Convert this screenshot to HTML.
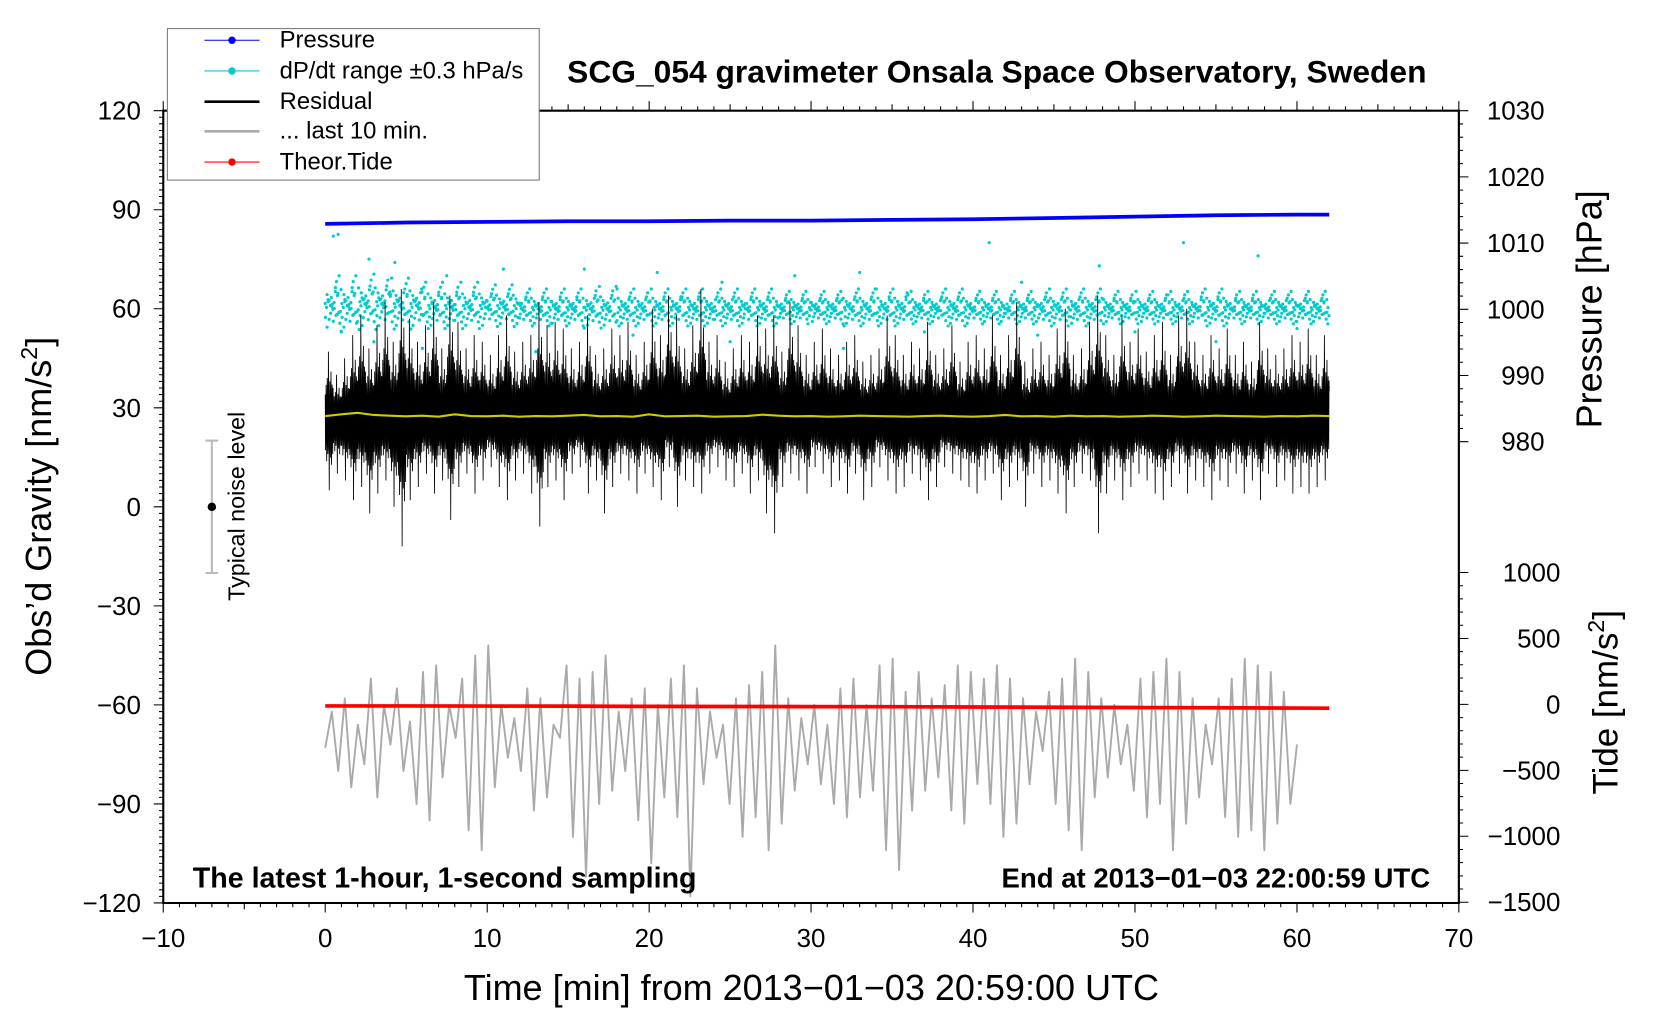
<!DOCTYPE html>
<html><head><meta charset="utf-8">
<style>
html,body{margin:0;padding:0;background:#fff;}
svg{display:block;font-family:"Liberation Sans",sans-serif;}
</style></head>
<body>
<svg id="chart" width="1660" height="1020" viewBox="0 0 1567 963" preserveAspectRatio="none" xmlns="http://www.w3.org/2000/svg">
<rect x="0" y="0" width="1567" height="963" fill="#fff"/>
<g id="data-layer"></g>
<g id="axes-layer"></g>
<text x="941" y="78" font-size="30" font-weight="bold" text-anchor="middle">SCG_054 gravimeter Onsala Space Observatory, Sweden</text>
<text transform="translate(48,478) rotate(-90)" font-size="34" text-anchor="middle">Obs’d Gravity [nm/s<tspan dy="-13" font-size="22">2</tspan><tspan dy="13">]</tspan></text>
<text transform="translate(1512,292) rotate(-90)" font-size="34" text-anchor="middle">Pressure [hPa]</text>
<text transform="translate(1527,663) rotate(-90)" font-size="33" text-anchor="middle">Tide [nm/s<tspan dy="-13" font-size="22">2</tspan><tspan dy="13">]</tspan></text>
<text x="766" y="944" font-size="34" text-anchor="middle">Time [min] from 2013−01−03 20:59:00 UTC</text>
<text x="182" y="838" font-size="27" font-weight="bold">The latest 1-hour, 1-second sampling</text>
<text x="1350" y="838" font-size="26" font-weight="bold" text-anchor="end">End at 2013−01−03 22:00:59 UTC</text>
<g>
<line x1="200" y1="416" x2="200" y2="541" stroke="#bbb" stroke-width="2"/>
<line x1="194" y1="416" x2="206" y2="416" stroke="#bbb" stroke-width="2"/>
<line x1="194" y1="541" x2="206" y2="541" stroke="#bbb" stroke-width="2"/>
<circle cx="200" cy="478.5" r="4" fill="#000"/>
<text transform="translate(231,478) rotate(-90)" font-size="22" text-anchor="middle">Typical noise level</text>
</g>
<g>
<rect x="158" y="27" width="351" height="143" fill="#fff" stroke="#777" stroke-width="1"/>
<g><line x1="193" y1="38" x2="245" y2="38" stroke="#00f" stroke-width="1"/><circle cx="219" cy="38" r="3.5" fill="#00f"/><text x="264" y="45" font-size="22.5">Pressure</text></g>
<g><line x1="193" y1="67" x2="245" y2="67" stroke="#0cc" stroke-width="1"/><circle cx="219" cy="67" r="3.5" fill="#0cc"/><text x="264" y="74" font-size="22.5">dP/dt range ±0.3 hPa/s</text></g>
<g><line x1="193" y1="96" x2="245" y2="96" stroke="#000" stroke-width="2.5"/><text x="264" y="103" font-size="22.5">Residual</text></g>
<g><line x1="193" y1="124" x2="245" y2="124" stroke="#aaa" stroke-width="2.5"/><text x="264" y="131" font-size="22.5">... last 10 min.</text></g>
<g><line x1="193" y1="153" x2="245" y2="153" stroke="#f00" stroke-width="1"/><circle cx="219" cy="153" r="3.5" fill="#f00"/><text x="264" y="160" font-size="22.5">Theor.Tide</text></g>
</g>
<script>
// ---- data ----
const resHi = [47,40,45,52,58,48,55,62,50,66,57,50,55,62,48,64,56,48,52,50,46,52,58,47,50,52,62,55,56,54,48,50,58,46,48,54,52,56,46,50,60,52,64,58,48,55,66,50,52,44,48,52,50,58,54,58,47,62,55,46,50,54,48,46,50,52,44,46,48,58,52,46,50,48,56,46,48,55,44,50,52,48,58,46,52,62,44,48,50,46,54,60,46,48,56,64,52,46,58,50,54,47,52,56,46,58,60,50,46,52,48,54,46,50,44,56,48,46,48,52,50,54,46,52,50,48];
const resLo = [5,10,8,2,6,-2,4,8,0,-12,2,6,10,4,8,-4,6,10,4,8,12,6,2,8,10,4,-6,6,8,2,10,12,4,8,-2,6,10,8,4,10,6,2,12,0,8,6,4,10,12,8,6,10,4,8,-2,-8,6,10,8,4,12,10,6,8,4,10,2,6,12,8,4,6,10,8,2,6,12,10,8,6,4,8,10,2,6,8,0,10,6,8,4,-2,6,10,8,-8,4,8,2,6,10,8,4,2,6,10,4,8,6,2,8,6,10,4,8,2,10,6,8,4,6,4,6,8];
const resMean = [27.5,28,28.5,27.8,27.6,27.4,27.6,27.3,28,27.5,27.4,27.6,27.3,27.5,27.4,27.6,27.8,27.4,27.5,27.3,28,27.4,27.5,27.6,27.3,27.4,27.5,27.9,27.6,27.4,27.5,27.3,27.4,27.6,27.5,27.4,27.3,27.5,27.6,27.4,27.3,27.5,27.8,27.4,27.5,27.3,27.6,27.4,27.5,27.3,27.4,27.6,27.5,27.3,27.4,27.6,27.5,27.4,27.3,27.5,27.4,27.6,27.5];
const dpMean = [61,61.5,61,60.5,60.5,60.5,60,60,60,60,60,60,60,60,60,60,60,60,60,60,60,60,60,60,60,60,60,60,60,60,60];
const dpSpread = [6,6,5.5,5,5,4.5,4,4,4.5,4,4,4,4,4,3.5,3.5,4,4,3.5,4,3.5,3.5,4,4,3.5,3.5,3.5,4,3.5,3.5,3.5];
const dpOutT = [0.5,0.8,2.7,4.3,20.5,7.5,11,24.5,41,43,47.8,53,57.6,29,16,33,1,3,6,13,19,25,32,37,44,50,55,60];
const dpOutV = [82,82.5,75,74,71,70,72,68,80,68,73,80,76,70,72,71,53,50,48,47,52,50,48,53,52,53,50,54];
const grey = [-73,-62,-80,-58,-85,-66,-78,-52,-88,-60,-72,-55,-80,-65,-90,-50,-95,-48,-82,-60,-70,-52,-98,-45,-104,-42,-85,-60,-76,-64,-80,-55,-92,-58,-88,-66,-70,-48,-100,-52,-112,-50,-90,-45,-86,-62,-80,-58,-95,-55,-108,-60,-88,-52,-94,-48,-118,-55,-84,-62,-76,-66,-90,-58,-100,-54,-94,-50,-104,-42,-96,-58,-86,-64,-78,-60,-84,-66,-90,-55,-94,-52,-88,-60,-86,-48,-104,-46,-110,-56,-92,-50,-86,-58,-82,-54,-92,-48,-96,-50,-84,-52,-90,-48,-100,-52,-96,-58,-84,-62,-74,-56,-90,-52,-98,-46,-104,-50,-88,-58,-82,-60,-78,-66,-86,-52,-94,-50,-90,-46,-104,-50,-96,-58,-88,-66,-78,-58,-94,-52,-100,-46,-98,-48,-104,-50,-96,-56,-90,-72];
const pT = [0,5,10,15,20,25,30,35,40,45,50,55,60,62];
const pressure = [1012.9,1013.1,1013.2,1013.3,1013.3,1013.4,1013.4,1013.5,1013.6,1013.8,1014.0,1014.2,1014.3,1014.3];
const tide = [-12,-12,-13,-14,-15,-16,-17,-18,-20,-22,-24,-26,-28,-29];
const xTicks = [-10,0,10,20,30,40,50,60,70];
const yTicks = [120,90,60,30,0,-30,-60,-90,-120];
const pTicks = [1030,1020,1010,1000,990,980];
const tTicks = [1000,500,0,-500,-1000,-1500];

// ---- scales ----
const X = t => 307 + t * 15.2875;
const Y = g => 478.5 - g * 3.117;
const YP = p => 104.5 + (1030 - p) * 6.25;
const YT = v => 665 - v * 0.1245;
const NS = 'http://www.w3.org/2000/svg';
const dl = document.getElementById('data-layer');
const al = document.getElementById('axes-layer');
function mk(tag, attrs, parent) { const e = document.createElementNS(NS, tag); for (const k in attrs) e.setAttribute(k, attrs[k]); parent.appendChild(e); return e; }

let pd = pT.map((t, i) => (i ? 'L' : 'M') + X(t).toFixed(1) + ' ' + YP(pressure[i]).toFixed(1)).join(' ');
const pl = mk('path', { d: pd, fill: 'none', stroke: '#00f', 'stroke-width': 3.5 }, dl);



const dotG = mk('g', { fill: '#0cc' }, dl);


const offs = [0.1,-0.4,0.7,-0.9,0.3,-0.2,0.5,-0.6,0.0,0.9,-0.3,0.2,-0.8,0.6,-0.1,0.4,-0.5,0.8,-0.7,0.15,-0.35,0.55,-0.05,1.2,-1.3,0.25,-0.15,1.5,-1.1,0.05,-0.45];
let dd = '';
dpMean.forEach((m, i) => {
  for (let k = 0; k < 60; k++) {
    const t = i * 2 + k * (2 / 60) + 0.02 * offs[(k * 3 + i) % offs.length];
    if (t > 62) break;
    const v = m + dpSpread[i] * offs[(k * 7 + i * 3) % offs.length];
    dd += 'M' + (X(t) - 1.5).toFixed(1) + ' ' + Y(v).toFixed(1) + 'a1.5 1.5 0 1 0 3 0a1.5 1.5 0 1 0 -3 0';
  }
});
dpOutT.forEach((t, i) => { dd += 'M' + (X(t) - 1.5).toFixed(1) + ' ' + Y(dpOutV[i]).toFixed(1) + 'a1.5 1.5 0 1 0 3 0a1.5 1.5 0 1 0 -3 0'; });
mk('path', { d: dd }, dotG);

const f1 = [0.35,0.5,0.3,0.6,0.4,1.0,0.45,0.3,0.55,0.4,0.7,0.35,0.5,0.45];
const f2 = [0.45,0.3,0.6,0.35,0.5,0.4,0.3,1.0,0.4,0.55,0.35,0.65,0.3,0.5];
const mid = 27;
let rd = '';
resHi.forEach((hi, i) => {
  const lo = resLo[i];
  for (let k = 0; k < 14; k++) {
    const t = i * 0.5 + k * 0.5 / 14;
    if (t > 62) break;
    const top = mid + (hi - mid) * f1[k];
    const bot = mid - (mid - lo) * f2[k];
    rd += (rd ? 'L' : 'M') + X(t).toFixed(2) + ' ' + Y(k % 2 ? bot : top).toFixed(1);
    rd += 'L' + X(t + 0.018).toFixed(2) + ' ' + Y(k % 2 ? top : bot).toFixed(1);
  }
});
const rl = mk('path', { d: rd, fill: 'none', stroke: '#000', 'stroke-width': 0.8 }, dl);



let md = resMean.map((v, i) => (i ? 'L' : 'M') + X(i).toFixed(1) + ' ' + Y(v).toFixed(1)).join(' ');
const ml = mk('path', { d: md, fill: 'none', stroke: '#cc0', 'stroke-width': 2 }, dl);



let gd = grey.map((v, i) => (i ? 'L' : 'M') + X(i * 60 / (grey.length - 1)).toFixed(1) + ' ' + Y(v).toFixed(1)).join(' ');
const gl = mk('path', { d: gd, fill: 'none', stroke: '#aaa', 'stroke-width': 1.8, 'stroke-linejoin': 'round' }, dl);



let td = pT.map((t, i) => (i ? 'L' : 'M') + X(t).toFixed(1) + ' ' + YT(tide[i]).toFixed(1)).join(' ');
const tl = mk('path', { d: td, fill: 'none', stroke: '#f00', 'stroke-width': 3.5 }, dl);



const L = X(-10), R = X(70), T = Y(120), B = Y(-120);
const frame = mk('path', { d: `M${L} ${T}H${R}V${B}H${L}Z`, fill: 'none', stroke: '#000', 'stroke-width': 2 }, al);


let tk = '';
for (let t = -10; t <= 70; t++) {
  const len = t % 10 === 0 ? 9 : (t % 5 === 0 ? 6 : 4);
  tk += `M${X(t).toFixed(1)} ${B}v${len}M${X(t).toFixed(1)} ${T}v${-len}`;
}
for (let g = -120; g <= 120; g += 2) { const len = g % 30 === 0 ? 9 : 4; tk += `M${L} ${Y(g).toFixed(1)}h${-len}`; }
for (let p = 980; p <= 1030; p += 2) { const len = p % 10 === 0 ? 9 : 4; tk += `M${R} ${YP(p).toFixed(1)}h${len}`; }
for (let v = -1500; v <= 1000; v += 100) { const len = v % 500 === 0 ? 9 : 4; tk += `M${R} ${YT(v).toFixed(1)}h${len}`; }
mk('path', { d: tk, fill: 'none', stroke: '#000', 'stroke-width': 1 }, al);
xTicks.forEach(t => { const e = mk('text', { x: X(t), y: 894, 'font-size': 24.5, 'text-anchor': 'middle' }, al); e.textContent = String(t).replace('-', '−');
  
   });
yTicks.forEach(g => { const e = mk('text', { x: 133, y: Y(g) + 8.5, 'font-size': 24.5, 'text-anchor': 'end' }, al); e.textContent = String(g).replace('-', '−');
  
   });
pTicks.forEach(p => { const e = mk('text', { x: 1458, y: YP(p) + 8.5, 'font-size': 24.5, 'text-anchor': 'end' }, al); e.textContent = String(p);
  
   });
tTicks.forEach(v => { const e = mk('text', { x: 1473, y: YT(v) + 8.5, 'font-size': 24.5, 'text-anchor': 'end' }, al); e.textContent = String(v).replace('-', '−');
  
   });
</script>
</svg>
</body></html>
